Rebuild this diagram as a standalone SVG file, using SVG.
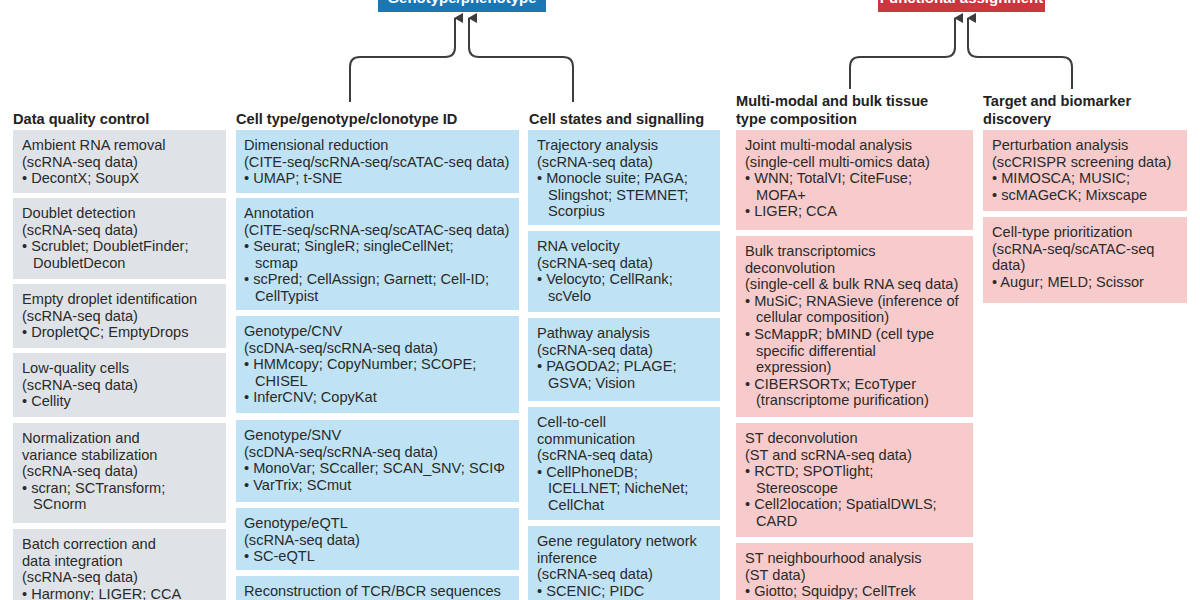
<svg xmlns="http://www.w3.org/2000/svg" width="1200" height="600" viewBox="0 0 1200 600">
<style>
.t{font-family:"Liberation Sans",Arial,sans-serif;font-size:14.6px;fill:#2a2a2a}
.h{font-family:"Liberation Sans",Arial,sans-serif;font-size:14.6px;font-weight:bold;fill:#222}
.top{font-family:"Liberation Sans",Arial,sans-serif;font-size:15px;font-weight:bold;fill:#fff;text-anchor:middle}
.g{fill:#dfe3e8}
.b{fill:#bfe3f5}
.p{fill:#f7cbcb}
.c{fill:none;stroke:#3d3d3d;stroke-width:2}
</style>
<defs>
<marker id="ah" markerWidth="10" markerHeight="10" refX="5" refY="1" orient="auto-start-reverse" markerUnits="userSpaceOnUse" viewBox="0 0 10 10">
<path d="M0,9 L5,0 L10,9 Z" fill="#3d3d3d"/>
</marker>
</defs>
<rect width="1200" height="600" fill="#fff"/>

<g id="genotype-phenotype">
<rect x="378" y="-10" width="168" height="22" fill="#1b76b4"/>
<text class="top" x="462" y="3">Genotype/phenotype</text>
</g>
<g id="functional-assignment">
<rect x="878" y="-10" width="167" height="22" fill="#c9363d"/>
<text class="top" x="961.5" y="3">Functional assignment</text>
</g>

<g id="connectors">
<path class="c" d="M350,102 V67 Q350,57 360,57 H445 Q455,57 455,47 V18" marker-end="url(#ah)"/>
<path class="c" d="M573,102 V67 Q573,57 563,57 H479 Q469,57 469,47 V18" marker-end="url(#ah)"/>
<path class="c" d="M850,89 V67 Q850,57 860,57 H945 Q955,57 955,47 V18" marker-end="url(#ah)"/>
<path class="c" d="M1072,89 V67 Q1072,57 1062,57 H978 Q968,57 968,47 V18" marker-end="url(#ah)"/>
</g>

<g id="headers">
<text class="h" x="13" y="124">Data quality control</text>
<text class="h" x="236" y="124">Cell type/genotype/clonotype ID</text>
<text class="h" x="529" y="124">Cell states and signalling</text>
<text class="h" x="736" y="106">Multi-modal and bulk tissue</text>
<text class="h" x="736" y="124">type composition</text>
<text class="h" x="983" y="106">Target and biomarker</text>
<text class="h" x="983" y="124">discovery</text>
</g>

<!-- Column 1 -->
<g id="ambient-rna">
<rect class="g" x="13" y="130" width="213" height="63"/>
<text class="t"><tspan x="22" y="150">Ambient RNA removal</tspan><tspan x="22" y="166.6">(scRNA-seq data)</tspan><tspan x="22" y="183.2">• DecontX; SoupX</tspan></text>
</g>
<g id="doublet">
<rect class="g" x="13" y="198" width="213" height="81"/>
<text class="t"><tspan x="22" y="218">Doublet detection</tspan><tspan x="22" y="234.6">(scRNA-seq data)</tspan><tspan x="22" y="251.2">• Scrublet; DoubletFinder;</tspan><tspan x="33" y="267.8">DoubletDecon</tspan></text>
</g>
<g id="empty-droplet">
<rect class="g" x="13" y="284" width="213" height="64"/>
<text class="t"><tspan x="22" y="304">Empty droplet identification</tspan><tspan x="22" y="320.6">(scRNA-seq data)</tspan><tspan x="22" y="337.2">• DropletQC; EmptyDrops</tspan></text>
</g>
<g id="low-quality">
<rect class="g" x="13" y="353" width="213" height="64"/>
<text class="t"><tspan x="22" y="373">Low-quality cells</tspan><tspan x="22" y="389.6">(scRNA-seq data)</tspan><tspan x="22" y="406.2">• Cellity</tspan></text>
</g>
<g id="normalization">
<rect class="g" x="13" y="423" width="213" height="100"/>
<text class="t"><tspan x="22" y="443">Normalization and</tspan><tspan x="22" y="459.6">variance stabilization</tspan><tspan x="22" y="476.2">(scRNA-seq data)</tspan><tspan x="22" y="492.8">• scran; SCTransform;</tspan><tspan x="33" y="509.4">SCnorm</tspan></text>
</g>
<g id="batch-correction">
<rect class="g" x="13" y="529" width="213" height="80"/>
<text class="t"><tspan x="22" y="549">Batch correction and</tspan><tspan x="22" y="565.6">data integration</tspan><tspan x="22" y="582.2">(scRNA-seq data)</tspan><tspan x="22" y="598.8">• Harmony; LIGER; CCA</tspan></text>
</g>

<!-- Column 2 -->
<g id="dim-reduction">
<rect class="b" x="236" y="130" width="283" height="63"/>
<text class="t"><tspan x="244" y="150">Dimensional reduction</tspan><tspan x="244" y="166.6">(CITE-seq/scRNA-seq/scATAC-seq data)</tspan><tspan x="244" y="183.2">• UMAP; t-SNE</tspan></text>
</g>
<g id="annotation">
<rect class="b" x="236" y="198" width="283" height="112"/>
<text class="t"><tspan x="244" y="218">Annotation</tspan><tspan x="244" y="234.6">(CITE-seq/scRNA-seq/scATAC-seq data)</tspan><tspan x="244" y="251.2">• Seurat; SingleR; singleCellNet;</tspan><tspan x="255" y="267.8">scmap</tspan><tspan x="244" y="284.4">• scPred; CellAssign; Garnett; Cell-ID;</tspan><tspan x="255" y="301">CellTypist</tspan></text>
</g>
<g id="genotype-cnv">
<rect class="b" x="236" y="316" width="283" height="97"/>
<text class="t"><tspan x="244" y="336">Genotype/CNV</tspan><tspan x="244" y="352.6">(scDNA-seq/scRNA-seq data)</tspan><tspan x="244" y="369.2">• HMMcopy; CopyNumber; SCOPE;</tspan><tspan x="255" y="385.8">CHISEL</tspan><tspan x="244" y="402.4">• InferCNV; CopyKat</tspan></text>
</g>
<g id="genotype-snv">
<rect class="b" x="236" y="420" width="283" height="82"/>
<text class="t"><tspan x="244" y="440">Genotype/SNV</tspan><tspan x="244" y="456.6">(scDNA-seq/scRNA-seq data)</tspan><tspan x="244" y="473.2">• MonoVar; SCcaller; SCAN_SNV; SCIΦ</tspan><tspan x="244" y="489.8">• VarTrix; SCmut</tspan></text>
</g>
<g id="genotype-eqtl">
<rect class="b" x="236" y="508" width="283" height="62"/>
<text class="t"><tspan x="244" y="528">Genotype/eQTL</tspan><tspan x="244" y="544.6">(scRNA-seq data)</tspan><tspan x="244" y="561.2">• SC-eQTL</tspan></text>
</g>
<g id="tcr-bcr">
<rect class="b" x="236" y="576" width="283" height="40"/>
<text class="t"><tspan x="244" y="596">Reconstruction of TCR/BCR sequences</tspan></text>
</g>

<!-- Column 3 -->
<g id="trajectory">
<rect class="b" x="528" y="130" width="192" height="95"/>
<text class="t"><tspan x="537" y="150">Trajectory analysis</tspan><tspan x="537" y="166.6">(scRNA-seq data)</tspan><tspan x="537" y="183.2">• Monocle suite; PAGA;</tspan><tspan x="548" y="199.8">Slingshot; STEMNET;</tspan><tspan x="548" y="216.4">Scorpius</tspan></text>
</g>
<g id="rna-velocity">
<rect class="b" x="528" y="231" width="192" height="81"/>
<text class="t"><tspan x="537" y="251">RNA velocity</tspan><tspan x="537" y="267.6">(scRNA-seq data)</tspan><tspan x="537" y="284.2">• Velocyto; CellRank;</tspan><tspan x="548" y="300.8">scVelo</tspan></text>
</g>
<g id="pathway">
<rect class="b" x="528" y="318" width="192" height="83"/>
<text class="t"><tspan x="537" y="338">Pathway analysis</tspan><tspan x="537" y="354.6">(scRNA-seq data)</tspan><tspan x="537" y="371.2">• PAGODA2; PLAGE;</tspan><tspan x="548" y="387.8">GSVA; Vision</tspan></text>
</g>
<g id="cell-cell">
<rect class="b" x="528" y="407" width="192" height="113"/>
<text class="t"><tspan x="537" y="427">Cell-to-cell</tspan><tspan x="537" y="443.6">communication</tspan><tspan x="537" y="460.2">(scRNA-seq data)</tspan><tspan x="537" y="476.8">• CellPhoneDB;</tspan><tspan x="548" y="493.4">ICELLNET; NicheNet;</tspan><tspan x="548" y="510">CellChat</tspan></text>
</g>
<g id="grn">
<rect class="b" x="528" y="526" width="192" height="84"/>
<text class="t"><tspan x="537" y="546">Gene regulatory network</tspan><tspan x="537" y="562.6">inference</tspan><tspan x="537" y="579.2">(scRNA-seq data)</tspan><tspan x="537" y="595.8">• SCENIC; PIDC</tspan></text>
</g>

<!-- Column 4 -->
<g id="joint-multimodal">
<rect class="p" x="736" y="130" width="237" height="100"/>
<text class="t"><tspan x="745" y="150">Joint multi-modal analysis</tspan><tspan x="745" y="166.6">(single-cell multi-omics data)</tspan><tspan x="745" y="183.2">• WNN; TotalVI; CiteFuse;</tspan><tspan x="756" y="199.8">MOFA+</tspan><tspan x="745" y="216.4">• LIGER; CCA</tspan></text>
</g>
<g id="bulk-deconvolution">
<rect class="p" x="736" y="236" width="237" height="181"/>
<text class="t"><tspan x="745" y="256">Bulk transcriptomics</tspan><tspan x="745" y="272.6">deconvolution</tspan><tspan x="745" y="289.2">(single-cell &amp; bulk RNA seq data)</tspan><tspan x="745" y="305.8">• MuSiC; RNASieve (inference of</tspan><tspan x="756" y="322.4">cellular composition)</tspan><tspan x="745" y="339">• ScMappR; bMIND (cell type</tspan><tspan x="756" y="355.6">specific differential</tspan><tspan x="756" y="372.2">expression)</tspan><tspan x="745" y="388.8">• CIBERSORTx; EcoTyper</tspan><tspan x="756" y="405.4">(transcriptome purification)</tspan></text>
</g>
<g id="st-deconvolution">
<rect class="p" x="736" y="423" width="237" height="114"/>
<text class="t"><tspan x="745" y="443">ST deconvolution</tspan><tspan x="745" y="459.6">(ST and scRNA-seq data)</tspan><tspan x="745" y="476.2">• RCTD; SPOTlight;</tspan><tspan x="756" y="492.8">Stereoscope</tspan><tspan x="745" y="509.4">• Cell2location; SpatialDWLS;</tspan><tspan x="756" y="526">CARD</tspan></text>
</g>
<g id="st-neighbourhood">
<rect class="p" x="736" y="543" width="237" height="70"/>
<text class="t"><tspan x="745" y="563">ST neighbourhood analysis</tspan><tspan x="745" y="579.6">(ST data)</tspan><tspan x="745" y="596.2">• Giotto; Squidpy; CellTrek</tspan></text>
</g>

<!-- Column 5 -->
<g id="perturbation">
<rect class="p" x="983" y="130" width="204" height="81"/>
<text class="t"><tspan x="992" y="150">Perturbation analysis</tspan><tspan x="992" y="166.6">(scCRISPR screening data)</tspan><tspan x="992" y="183.2">• MIMOSCA; MUSIC;</tspan><tspan x="992" y="199.8">• scMAGeCK; Mixscape</tspan></text>
</g>
<g id="cell-type-prioritization">
<rect class="p" x="983" y="217" width="204" height="86"/>
<text class="t"><tspan x="992" y="237">Cell-type prioritization</tspan><tspan x="992" y="253.6">(scRNA-seq/scATAC-seq</tspan><tspan x="992" y="270.2">data)</tspan><tspan x="992" y="286.8">• Augur; MELD; Scissor</tspan></text>
</g>
</svg>
